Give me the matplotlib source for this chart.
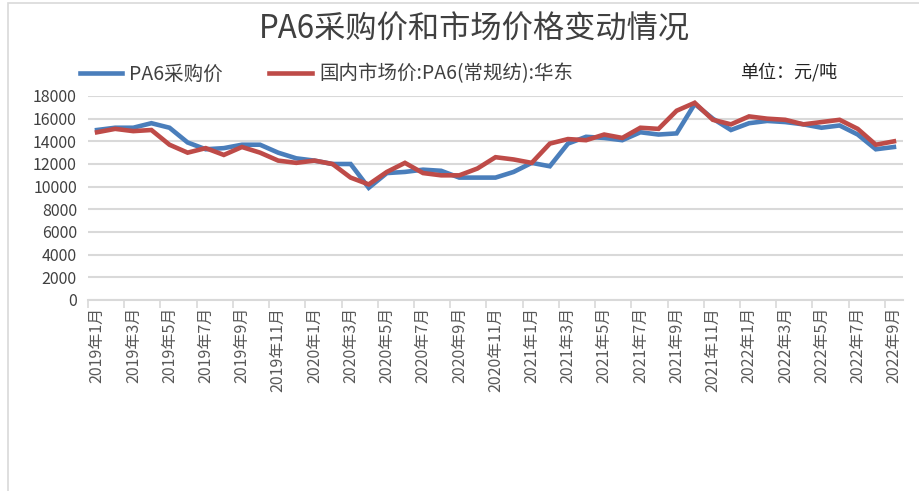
import matplotlib
matplotlib.use("Agg")
import matplotlib.pyplot as plt
from matplotlib.patches import Rectangle

plt.rcParams['font.family'] = ['Noto Sans CJK SC', 'DejaVu Sans']

months = [f"{y}年{m}月" for y in (2019, 2020, 2021, 2022) for m in range(1, 13)][:45]

purchase = [15000, 15200, 15200, 15600, 15200, 13900, 13300, 13400, 13700, 13700,
            13000, 12500, 12300, 12000, 12000, 9900, 11200, 11300, 11500, 11400,
            10800, 10800, 10800, 11300, 12100, 11800, 13800, 14400, 14300, 14100,
            14800, 14600, 14700, 17300, 16000, 15000, 15600, 15800, 15700, 15500,
            15200, 15400, 14600, 13300, 13500]
market = [14800, 15100, 14900, 15000, 13700, 13000, 13400, 12800, 13500, 13000,
          12300, 12100, 12300, 12000, 10800, 10200, 11300, 12100, 11200, 11000,
          11000, 11600, 12600, 12400, 12100, 13800, 14200, 14100, 14600, 14300,
          15200, 15100, 16700, 17400, 15900, 15500, 16200, 16000, 15900, 15500,
          15700, 15900, 15100, 13700, 14000]
yticks = list(range(0, 18001, 2000))

W, H = 920, 491
fig = plt.figure(figsize=(W/100, H/100), dpi=100)
fig.patch.set_facecolor('white')
fig.patches.append(Rectangle((8/W, -0.01), 1.0, 1 - 3/H + 0.01, transform=fig.transFigure,
                             fill=False, edgecolor='#d9d9d9', linewidth=1.2))

ax = fig.add_axes([88/W, 1 - 300/H, (903-88)/W, (300-96)/H])
x = list(range(len(months)))
ax.plot(x, purchase, color='#4a7ebb', linewidth=3.3, label='PA6采购价', solid_joinstyle='miter')
ax.plot(x, market, color='#be4b48', linewidth=3.3, label='国内市场价:PA6(常规纺):华东', solid_joinstyle='miter')

ax.set_xlim(-0.5, len(months) - 0.5)
ax.set_ylim(0, 18000)
ax.set_yticks(yticks)
ax.set_yticklabels([str(v) for v in yticks], fontsize=11.5, color='#404040')
ax.yaxis.grid(True, color='#d9d9d9', linewidth=1.5)
ax.set_axisbelow(True)
ax.tick_params(axis='y', length=0, pad=8)

# category ticks at boundaries every 2 months, labels at even categories
ax.set_xticks([i - 0.5 for i in range(0, len(months) + 1, 2)])
ax.set_xticklabels([])
ax.set_xticks(list(range(0, len(months), 2)), minor=True)
ax.set_xticklabels(months[::2], minor=True, rotation=90, fontsize=11.5, color='#595959')
ax.tick_params(axis='x', which='major', length=6, color='#d9d9d9', width=1.2)
ax.tick_params(axis='x', which='minor', length=0, pad=5)

for s in ['top', 'right', 'left']:
    ax.spines[s].set_visible(False)
ax.spines['bottom'].set_color('#d9d9d9')
ax.spines['bottom'].set_linewidth(1.5)

fig.text(474/W, 1 - 30/H, 'PA6采购价和市场价格变动情况', ha='center', va='center',
         fontsize=22.5, color='#404040')
fig.text(740/W, 1 - 72/H, '单位：元/吨', ha='left', va='center', fontsize=13, color='#222222')
ax.legend(loc='center left', bbox_to_anchor=(62/W, 1 - 74/H), bbox_transform=fig.transFigure,
          ncol=2, frameon=False, fontsize=14, handlelength=2.2, handletextpad=0.35,
          columnspacing=2.4, labelcolor='#404040')

fig.savefig('out.png', dpi=100)
